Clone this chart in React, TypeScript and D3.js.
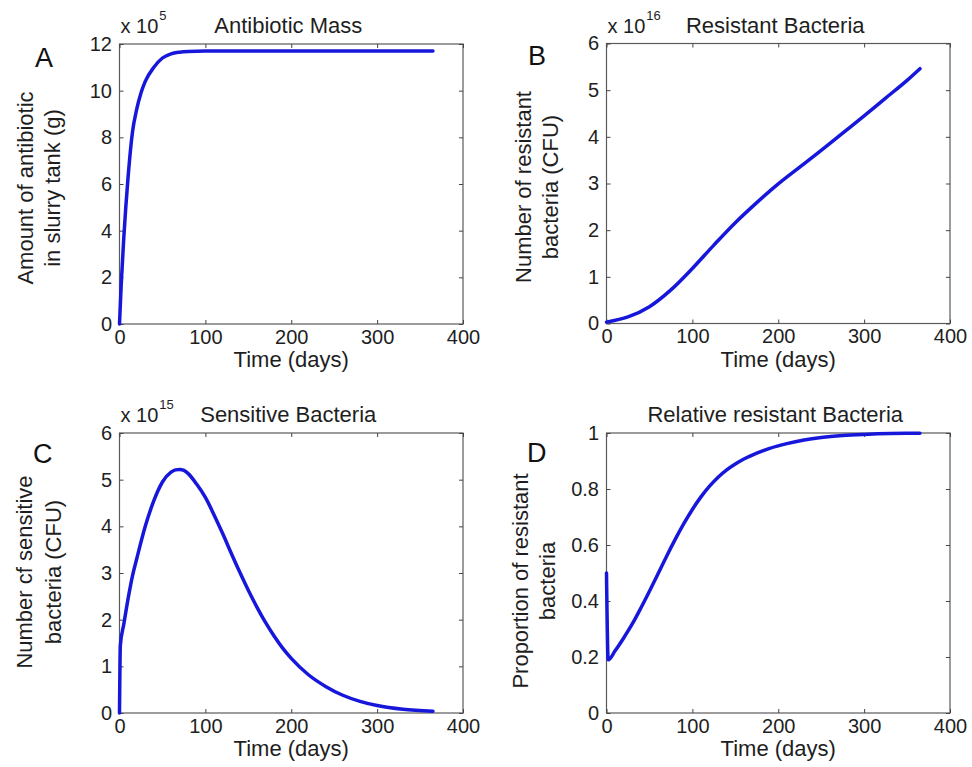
import React, { useRef, useEffect } from "react";
import * as d3 from "d3";

// A: antibiotic mass in the slurry tank (x 10^5 g)
const massDays = [0, 2, 5, 10, 15, 20, 25, 30, 40, 50, 60, 70, 80, 100, 150, 200, 250, 300, 365];
const massValues = [0, 1.7, 3.7, 6.3, 8.2, 9.2, 9.9, 10.4, 11.0, 11.4, 11.58, 11.65, 11.68, 11.7, 11.7, 11.7, 11.7, 11.7, 11.7];

// B: resistant bacteria (x 10^16 CFU)
const resistantDays = [0, 25, 50, 75, 100, 125, 150, 175, 200, 225, 250, 275, 300, 325, 350, 365];
const resistantValues = [0.03, 0.14, 0.36, 0.72, 1.18, 1.68, 2.16, 2.59, 2.99, 3.35, 3.71, 4.08, 4.45, 4.83, 5.21, 5.46];

// C: sensitive bacteria (x 10^15 CFU)
const sensitiveDays = [0, 1, 5, 10, 15, 20, 30, 40, 50, 60, 65, 70, 75, 80, 90, 100, 110, 120, 130, 140, 150, 160, 170, 180, 190, 200, 220, 240, 260, 280, 300, 330, 365];
const sensitiveValues = [0, 1.45, 1.9, 2.45, 2.93, 3.3, 4.0, 4.55, 4.95, 5.16, 5.21, 5.22, 5.2, 5.13, 4.9, 4.62, 4.25, 3.85, 3.43, 3.02, 2.63, 2.27, 1.94, 1.65, 1.39, 1.17, 0.82, 0.57, 0.38, 0.25, 0.16, 0.08, 0.04];

// D: proportion of resistant bacteria
const proportionDays = [0, 2, 10, 20, 30, 40, 50, 60, 70, 80, 90, 100, 110, 120, 130, 140, 150, 160, 175, 190, 210, 230, 250, 275, 300, 330, 365];
const proportionValues = [0.5, 0.19, 0.222, 0.268, 0.318, 0.375, 0.435, 0.497, 0.56, 0.62, 0.676, 0.727, 0.772, 0.81, 0.842, 0.868, 0.889, 0.907, 0.928, 0.945, 0.962, 0.975, 0.984, 0.991, 0.995, 0.998, 0.999];

const dayTicks = [0, 100, 200, 300, 400];
const massTicks = [0, 2, 4, 6, 8, 10, 12];
const resistantTicks = [0, 1, 2, 3, 4, 5, 6];
const sensitiveTicks = [0, 1, 2, 3, 4, 5, 6];
const proportionTicks = [0, 0.2, 0.4, 0.6, 0.8, 1];

const FONT = "'Liberation Sans', Arial, Helvetica, sans-serif";
const W = 343.5;
const H = 280;

const App = () => {
  const svgRef = useRef<SVGSVGElement>(null);

  useEffect(() => {
    const svg = d3.select(svgRef.current);
    svg.selectAll("*").remove();

    const panels = [
      {
        letter: "A", letterX: 35, letterY: 67,
        title: "Antibiotic Mass", exponent: "5",
        left: 119.5, top: 44,
        days: massDays, values: massValues, yTicks: massTicks, yMax: 12,
        label: ["Amount of antibiotic", "in slurry tank (g)"], labelX: [-86.5, -60], labelY: 188,
      },
      {
        letter: "B", letterX: 528, letterY: 65,
        title: "Resistant Bacteria", exponent: "16",
        left: 606.5, top: 43.5,
        days: resistantDays, values: resistantValues, yTicks: resistantTicks, yMax: 6,
        label: ["Number of resistant", "bacteria (CFU)"], labelX: [-76, -49], labelY: 187,
      },
      {
        letter: "C", letterX: 33, letterY: 463,
        title: "Sensitive Bacteria", exponent: "15",
        left: 119.5, top: 433,
        days: sensitiveDays, values: sensitiveValues, yTicks: sensitiveTicks, yMax: 6,
        label: ["Number cf sensitive", "bacteria (CFU)"], labelX: [-88, -59], labelY: 572,
      },
      {
        letter: "D", letterX: 527, letterY: 462,
        title: "Relative resistant Bacteria", exponent: null,
        left: 606.5, top: 433,
        days: proportionDays, values: proportionValues, yTicks: proportionTicks, yMax: 1,
        label: ["Proportion of resistant", "bacteria"], labelX: [-79, -52], labelY: 581,
      },
    ];

    panels.forEach((p) => {
      const g = svg.append("g").attr("transform", `translate(${p.left},${p.top})`);

      const x = d3.scaleLinear().domain([0, 400]).range([0, W]);
      const y = d3.scaleLinear().domain([0, p.yMax]).range([H, 0]);

      // box
      g.append("rect")
        .attr("width", W)
        .attr("height", H)
        .attr("fill", "white")
        .attr("stroke", "#5a5a5a")
        .attr("stroke-width", 1.2);

      const styleAxis = (sel: any) => {
        sel.select(".domain").remove();
        sel.selectAll(".tick line").attr("stroke", "#444");
        sel.selectAll(".tick text")
          .attr("fill", "#1e1e1e")
          .attr("font-family", FONT)
          .attr("font-size", 20);
      };

      g.append("g")
        .attr("transform", `translate(0,${H})`)
        .call(d3.axisBottom(x).tickValues(dayTicks).tickSizeInner(-4).tickSizeOuter(0).tickPadding(5.5))
        .call(styleAxis);
      g.append("g")
        .call(d3.axisTop(x).tickValues(dayTicks).tickSizeInner(-4).tickSizeOuter(0).tickFormat(() => ""))
        .call(styleAxis);
      g.append("g")
        .call(d3.axisLeft(y).tickValues(p.yTicks).tickSizeInner(-4).tickSizeOuter(0).tickPadding(7.5).tickFormat((d: any) => String(d)))
        .call(styleAxis);
      g.append("g")
        .attr("transform", `translate(${W},0)`)
        .call(d3.axisRight(y).tickValues(p.yTicks).tickSizeInner(-4).tickSizeOuter(0).tickFormat(() => ""))
        .call(styleAxis);

      // curve
      const pts = p.days.map((d, i) => [d, p.values[i]] as [number, number]);
      const line = d3.line<[number, number]>()
        .x((d) => x(d[0]))
        .y((d) => y(d[1]))
        .curve(d3.curveMonotoneX);
      g.append("path")
        .datum(pts)
        .attr("d", line)
        .attr("fill", "none")
        .attr("stroke", "#1717dc")
        .attr("stroke-width", 3.5)
        .attr("stroke-linecap", "round")
        .attr("stroke-linejoin", "round");

      // title
      g.append("text")
        .attr("x", W / 2 - 3)
        .attr("y", -11)
        .attr("text-anchor", "middle")
        .attr("font-family", FONT)
        .attr("font-size", 22)
        .attr("fill", "#1e1e1e")
        .text(p.title);

      // exponent
      if (p.exponent) {
        const ex = g.append("text")
          .attr("x", 1)
          .attr("y", -11)
          .attr("font-family", FONT)
          .attr("font-size", 20)
          .attr("fill", "#1e1e1e")
          .text("x 10");
        ex.append("tspan")
          .attr("dy", -13)
          .attr("dx", 1)
          .attr("font-size", 13)
          .text(p.exponent);
      }

      // x label
      g.append("text")
        .attr("x", W / 2)
        .attr("y", H + 43)
        .attr("text-anchor", "middle")
        .attr("font-family", FONT)
        .attr("font-size", 22)
        .attr("fill", "#1e1e1e")
        .text("Time (days)");

      // y label, two lines
      p.label.forEach((txt, i) => {
        g.append("text")
          .attr("transform", `translate(${p.labelX[i]},${p.labelY - p.top}) rotate(-90)`)
          .attr("text-anchor", "middle")
          .attr("font-family", FONT)
          .attr("font-size", 22)
          .attr("fill", "#1e1e1e")
          .text(txt);
      });

      // panel letter
      svg.append("text")
        .attr("x", p.letterX)
        .attr("y", p.letterY)
        .attr("font-family", FONT)
        .attr("font-size", 27)
        .attr("fill", "#111")
        .text(p.letter);
    });
  }, []);

  return (
    <svg
      ref={svgRef}
      width={972}
      height={767}
      style={{ position: "absolute", left: 0, top: 0, background: "white" }}
    ></svg>
  );
};

export default App;
